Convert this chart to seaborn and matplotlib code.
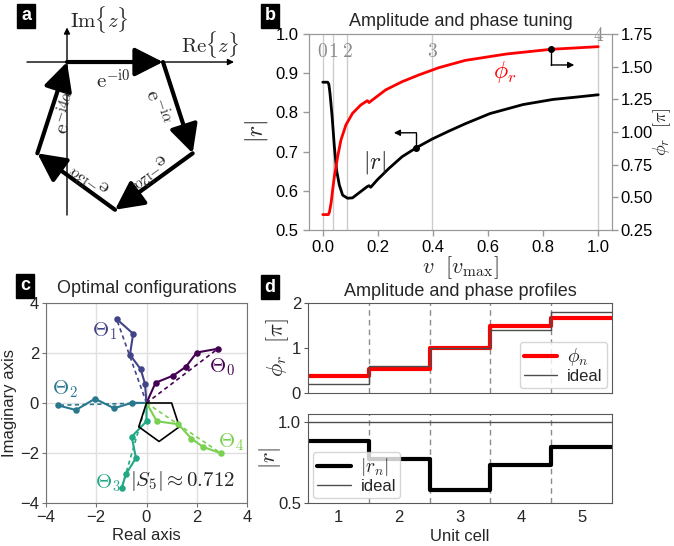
import numpy as np
import pandas as pd
import matplotlib
matplotlib.use("Agg")
import matplotlib.pyplot as plt
import seaborn as sns

# ------------------------------------------------------------------ data
# panel a / c : pentagon of unit phasors e^{-i k alpha}
pent_u = [0.0, 1.0, 1.309, 0.5, -0.309, 0.0]
pent_v = [0.0, 0.0, -0.951, -1.539, -0.951, 0.0]
edge_labels = [r"$\mathrm{e}^{-\mathrm{i}0}$", r"$\mathrm{e}^{-\mathrm{i}\alpha}$",
               r"$\mathrm{e}^{-\mathrm{i}2\alpha}$", r"$\mathrm{e}^{-\mathrm{i}3\alpha}$",
               r"$\mathrm{e}^{-\mathrm{i}4\alpha}$"]

# panel b : amplitude and phase tuning
v_r = [0.0, 0.018, 0.022, 0.026, 0.030, 0.034, 0.042, 0.050, 0.060, 0.072, 0.090,
       0.108, 0.132, 0.162, 0.168, 0.174, 0.198, 0.240, 0.288, 0.340, 0.397, 0.457,
       0.517, 0.607, 0.727, 0.835, 0.920, 1.0]
r_abs = [0.877, 0.877, 0.872, 0.850, 0.820, 0.789, 0.713, 0.653, 0.615, 0.589, 0.581,
         0.582, 0.595, 0.611, 0.613, 0.609, 0.628, 0.657, 0.687, 0.710, 0.732, 0.752,
         0.771, 0.797, 0.820, 0.833, 0.839, 0.845]
v_phi = [0.0, 0.020, 0.024, 0.030, 0.036, 0.042, 0.054, 0.066, 0.084, 0.108, 0.138,
         0.162, 0.168, 0.180, 0.228, 0.288, 0.348, 0.421, 0.517, 0.667, 0.829, 1.0]
phi_r = [0.368, 0.368, 0.385, 0.455, 0.560, 0.658, 0.811, 0.939, 1.054, 1.143, 1.207,
         1.240, 1.225, 1.245, 1.322, 1.385, 1.436, 1.492, 1.548, 1.597, 1.633, 1.653]
v_cells = [0.0, 0.038, 0.088, 0.397, 1.0]
cell_names = ["0", "1", "2", "3", "4"]

# panel c : optimal configurations (cumulative phasor sums)
theta_names = [r"$\Theta_0$", r"$\Theta_1$", r"$\Theta_2$", r"$\Theta_3$", r"$\Theta_4$"]
theta0_x = [0.0, 0.36, 1.07, 1.57, 2.00, 2.84]
theta0_y = [0.0, 0.81, 1.10, 1.45, 2.02, 2.17]
theta1_x = [0.0, -0.06, -0.23, -0.66, -0.53, -1.19]
theta1_y = [0.0, 0.77, 1.35, 1.93, 2.77, 3.36]
theta2_x = [0.0, -0.57, -1.29, -2.05, -2.81, -3.54]
theta2_y = [0.0, 0.01, -0.21, 0.17, -0.28, -0.09]
theta3_x = [0.0, 0.0, -0.59, -0.42, -0.82, -0.99]
theta3_y = [0.0, -0.73, -1.35, -2.20, -2.85, -3.41]
theta4_x = [0.0, 0.41, 1.27, 1.78, 2.26, 2.96]
theta4_y = [0.0, -0.73, -0.85, -1.42, -1.76, -2.01]
s5_text = r"$|S_5|\approx 0.712$"

# panel d : amplitude and phase profiles
cells = [1, 2, 3, 4, 5]
phi_n = [0.37, 0.53, 1.0, 1.49, 1.66]
phi_ideal = [0.2, 0.6, 1.0, 1.4, 1.8]
r_n = [0.882, 0.773, 0.582, 0.735, 0.847]
r_ideal = [1.0, 1.0, 1.0, 1.0, 1.0]

# ------------------------------------------------------------------ style
sns.set_style("white")
plt.rcParams["font.family"] = ["Liberation Sans", "DejaVu Sans"]
plt.rcParams["mathtext.fontset"] = "cm"
plt.rcParams["axes.unicode_minus"] = True

W, H = 674, 546
fig = plt.figure(figsize=(W / 100, H / 100), dpi=100)


def box(l, t, r, b):
    return [l / W, 1 - b / H, (r - l) / W, (b - t) / H]


def panel_letter(x, y, s):
    fig.text(x / W, 1 - y / H, s, color="white", fontweight="bold", fontsize=13,
             ha="center", va="center",
             bbox=dict(facecolor="black", edgecolor="black", boxstyle="square,pad=0.22"))


# ------------------------------------------------------------------ panel a
ax_a = fig.add_axes(box(0, 0, 235, 235))
ax_a.set_xlim(-0.698, 1.75)
ax_a.set_ylim(-1.802, 0.646)
ax_a.axis("off")
ax_a.annotate("", xy=(1.74, 0), xytext=(-0.417, 0),
              arrowprops=dict(arrowstyle="-|>", lw=1, color="k", mutation_scale=9,
                              shrinkA=0, shrinkB=0))
ax_a.annotate("", xy=(0, 0.36), xytext=(0, -1.594),
              arrowprops=dict(arrowstyle="-|>", lw=1, color="k", mutation_scale=9,
                              shrinkA=0, shrinkB=0))
ax_a.text(0.34, 0.44, r"$\mathrm{Im}\{z\}$", fontsize=15, ha="center", va="center")
ax_a.text(1.49, 0.18, r"$\mathrm{Re}\{z\}$", fontsize=15, ha="center", va="center")
for k in range(5):
    ax_a.annotate("", xy=(pent_u[k + 1], pent_v[k + 1]), xytext=(pent_u[k], pent_v[k]),
                  arrowprops=dict(arrowstyle="-|>,head_length=0.75,head_width=0.38",
                                  lw=3, color="k", mutation_scale=23,
                                  shrinkA=0, shrinkB=0))
lab_pos = [(0.48, -0.19), (0.94, -0.47), (0.84, -1.12), (0.25, -1.20), (0.0, -0.53)]
lab_rot = [0, -72, -144, 144, 72]
for (px, py), rot, s in zip(lab_pos, lab_rot, edge_labels):
    ax_a.text(px, py, s, fontsize=15, rotation=rot, rotation_mode="anchor",
              ha="center", va="center")

# ------------------------------------------------------------------ panel b
ax_b = fig.add_axes(box(309, 34, 612, 230))
ax_b2 = ax_b.twinx()
spine_gray = "0.6"
for v in v_cells:
    ax_b.axvline(v, color="0.8", lw=1, zorder=0)
for v, s in zip(v_cells[:4], cell_names[:4]):
    ax_b.text(v, 0.955, "$" + s + "$", color="0.55", fontsize=14, ha="center", va="center")
ax_b.text(v_cells[4], 0.995, "$" + cell_names[4] + "$", color="0.55", fontsize=14,
          ha="center", va="center", clip_on=False)
sns.lineplot(x=v_r, y=r_abs, ax=ax_b, color="black", lw=2, sort=False, estimator=None)
sns.lineplot(x=v_phi, y=phi_r, ax=ax_b2, color="red", lw=2, sort=False, estimator=None)
ax_b.set_xlim(-0.05, 1.05)
ax_b.set_ylim(0.5, 1.0)
ax_b2.set_ylim(0.25, 1.75)
ax_b.set_xticks([0.0, 0.2, 0.4, 0.6, 0.8, 1.0])
ax_b.set_yticks([0.5, 0.6, 0.7, 0.8, 0.9, 1.0])
ax_b2.set_yticks([0.25, 0.5, 0.75, 1.0, 1.25, 1.5, 1.75])
for a in (ax_b, ax_b2):
    for sp in a.spines.values():
        sp.set_color(spine_gray)
    a.tick_params(axis="both", which="both", direction="out", length=4, width=1,
                  color=spine_gray, labelsize=12, labelcolor="black")
ax_b.tick_params(axis="x", bottom=True)
ax_b.tick_params(axis="y", left=True)
ax_b2.tick_params(axis="y", right=True, pad=2)
ax_b.set_title("Amplitude and phase tuning", fontsize=13, pad=6)
ax_b.set_xlabel(r"$v\ \ [v_{\mathrm{max}}]$", fontsize=16, labelpad=-1)
ax_b.set_ylabel(r"$|r|$", fontsize=17, labelpad=4)
ax_b2.set_ylabel(r"$\phi_r\ \ [\pi]$", fontsize=13)
ax_b2.yaxis.set_label_coords(1.131, 0.5)
# annotation arrows
ax_b.plot([0.34], [0.71], "o", color="k", ms=4)
ax_b.plot([0.34, 0.34], [0.71, 0.748], color="k", lw=1)
ax_b.annotate("", xy=(0.258, 0.748), xytext=(0.34, 0.748),
              arrowprops=dict(arrowstyle="-|>", lw=1, color="k", mutation_scale=9,
                              shrinkA=0, shrinkB=0))
ax_b2.plot([0.829], [1.633], "o", color="k", ms=4, zorder=5)
ax_b2.plot([0.829, 0.829], [1.633, 1.513], color="k", lw=1)
ax_b2.annotate("", xy=(0.913, 1.513), xytext=(0.829, 1.513),
               arrowprops=dict(arrowstyle="-|>", lw=1, color="k", mutation_scale=9,
                               shrinkA=0, shrinkB=0))
ax_b.text(0.186, 0.672, r"$|r|$", fontsize=17, ha="center", va="center")
ax_b2.text(0.661, 1.462, r"$\phi_r$", fontsize=17, color="red", ha="center", va="center")

# ------------------------------------------------------------------ panel c
ax_c = fig.add_axes(box(46, 303, 247, 503))
cols = sns.color_palette("viridis", as_cmap=True)
colors = [cols(0.0), cols(0.2), cols(0.4), cols(0.6), cols(0.8)]
xs = [theta0_x, theta1_x, theta2_x, theta3_x, theta4_x]
ys = [theta0_y, theta1_y, theta2_y, theta3_y, theta4_y]
for x, y, c in zip(xs, ys, colors):
    sns.lineplot(x=[x[0], x[-1]], y=[y[0], y[-1]], ax=ax_c, color=c, lw=1.2,
                 linestyle=(0, (2.5, 2)), sort=False, estimator=None)
    sns.lineplot(x=x, y=y, ax=ax_c, color=c, lw=1.5, sort=False, estimator=None)
    sns.scatterplot(x=x[1:], y=y[1:], ax=ax_c, color=c, s=22, edgecolor=c, linewidth=0,
                    zorder=4)
sns.lineplot(x=pent_u, y=pent_v, ax=ax_c, color="black", lw=1.2, sort=False,
             estimator=None)
lab_c = [(3.0, 1.45), (-1.68, 2.88), (-3.25, 0.55), (-1.52, -3.21), (3.35, -1.55)]
for (px, py), s, c in zip(lab_c, theta_names, colors):
    ax_c.text(px, py, s, color=c, fontsize=15, ha="center", va="center")
ax_c.text(1.42, -3.13, s5_text, fontsize=15, ha="center", va="center")
ax_c.set_xlim(-4, 4)
ax_c.set_ylim(-4, 4)
ax_c.set_xticks([-4, -2, 0, 2, 4])
ax_c.set_yticks([-4, -2, 0, 2, 4])
ax_c.grid(True, color="0.88", lw=1)
ax_c.set_axisbelow(True)
for sp in ax_c.spines.values():
    sp.set_color("0.45")
ax_c.tick_params(axis="both", direction="out", length=3, color="0.45", labelsize=12,
                 bottom=True, left=True, pad=2)
ax_c.set_title("Optimal configurations", fontsize=13, pad=7)
ax_c.set_xlabel("Real axis", fontsize=12, labelpad=2)
ax_c.set_ylabel("Imaginary axis", fontsize=12, labelpad=2)

# ------------------------------------------------------------------ panel d
ax_d1 = fig.add_axes(box(308, 303, 612, 393))
ax_d2 = fig.add_axes(box(308, 414, 612, 503))
edges = [c - 0.5 for c in cells] + [cells[-1] + 0.5]
for a in (ax_d1, ax_d2):
    for e in edges[1:-1]:
        a.axvline(e, color="0.55", lw=1, ls=(0, (4, 3)), zorder=0)
sns.lineplot(x=edges, y=phi_n + [phi_n[-1]], ax=ax_d1, color="red", lw=3,
             drawstyle="steps-post", estimator=None, label=r"$\phi_n$")
sns.lineplot(x=edges, y=phi_ideal + [phi_ideal[-1]], ax=ax_d1, color="0.3", lw=1,
             drawstyle="steps-post", estimator=None, label="ideal")
sns.lineplot(x=edges, y=r_n + [r_n[-1]], ax=ax_d2, color="black", lw=3,
             drawstyle="steps-post", estimator=None, label=r"$|r_n|$")
sns.lineplot(x=edges, y=r_ideal + [r_ideal[-1]], ax=ax_d2, color="0.3", lw=1,
             drawstyle="steps-post", estimator=None, label="ideal")
for a in (ax_d1, ax_d2):
    a.set_xlim(0.5, 5.5)
    for sp in a.spines.values():
        sp.set_color("0.35")
    a.tick_params(axis="both", direction="out", length=3, color="0.35", labelsize=12,
                  left=True, pad=2)
ax_d1.set_ylim(0, 2)
ax_d1.set_yticks([0, 1, 2])
ax_d1.set_xticks(cells)
ax_d1.tick_params(axis="x", labelbottom=False, length=0)
ax_d2.set_ylim(0.5, 1.05)
ax_d2.set_yticks([0.5, 1.0])
ax_d2.set_xticks(cells)
ax_d2.tick_params(axis="x", bottom=False)
ax_d1.set_title("Amplitude and phase profiles", fontsize=13, pad=5)
ax_d1.set_ylabel(r"$\phi_r\ \ [\pi]$", fontsize=16)
ax_d1.yaxis.set_label_coords(-0.055, 0.5)
ax_d2.set_ylabel(r"$|r|$", fontsize=16)
ax_d2.yaxis.set_label_coords(-0.082, 0.5)
ax_d2.set_xlabel("Unit cell", fontsize=12, labelpad=3)
for a, loc in ((ax_d1, "lower right"), (ax_d2, "lower left")):
    leg = a.legend(loc=loc, fontsize=12, borderaxespad=0.3, handlelength=2.0,
                   handletextpad=0.6, labelspacing=0.05, borderpad=0.25)
    leg.get_texts()[0].set_fontsize(14)

# ------------------------------------------------------------------ panel letters
panel_letter(26, 16, "a")
panel_letter(270, 16, "b")
panel_letter(25, 286, "c")
panel_letter(270, 287, "d")

fig.savefig("out.png", dpi=100)
